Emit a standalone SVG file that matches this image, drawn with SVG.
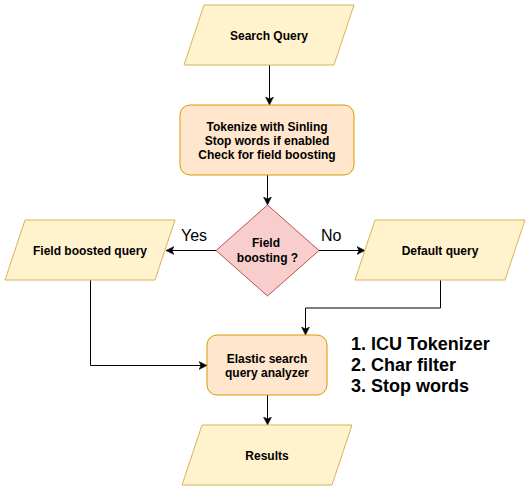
<svg xmlns="http://www.w3.org/2000/svg" width="531" height="491" viewBox="0 0 531 491">
<style>
.io{fill:#fff2cc;stroke:#d6b656;stroke-width:1}
.proc{fill:#ffe6cc;stroke:#d79b00;stroke-width:1}
.dec{fill:#f8cecc;stroke:#b85450;stroke-width:1}
.t{font-family:"Liberation Sans",Arial,sans-serif;font-size:12px;font-weight:bold;fill:#000;text-anchor:middle}
.lbl{font-family:"Liberation Sans",Arial,sans-serif;font-size:16px;fill:#000}
.list{font-family:"Liberation Sans",Arial,sans-serif;font-size:18px;font-weight:bold;fill:#000}
.e{fill:none;stroke:#000;stroke-width:1}
</style>
<defs>
<marker id="arr" markerWidth="9" markerHeight="9" refX="8" refY="4.5" orient="auto" markerUnits="userSpaceOnUse">
<path d="M0,0.5 L8,4.5 L0,8.5 L2,4.5 Z" fill="#000" stroke="#000" stroke-width="0.5"/>
</marker>
</defs>
<rect width="531" height="491" fill="#fff"/>
<g id="connectors">
<path class="e" d="M269.5,65 L269.5,105" marker-end="url(#arr)"/>
<path class="e" d="M267.5,175 L267.5,205" marker-end="url(#arr)"/>
<path class="e" d="M216,250.5 L166,250.5" marker-end="url(#arr)"/>
<path class="e" d="M319,250.5 L365,250.5" marker-end="url(#arr)"/>
<path class="e" d="M90.5,280 L90.5,365.5 L207,365.5" marker-end="url(#arr)"/>
<path class="e" d="M440.5,280 L440.5,308 L305.5,308 L305.5,335" marker-end="url(#arr)"/>
<path class="e" d="M267.5,395 L267.5,425" marker-end="url(#arr)"/>
<text class="lbl" x="181" y="241">Yes</text>
<text class="lbl" x="321" y="241">No</text>
</g>
<g id="search-query">
<polygon class="io" points="204,5 354,5 334,65 184,65"/>
<text class="t" x="269" y="40">Search Query</text>
</g>
<g id="tokenize">
<rect class="proc" x="180" y="105" width="174" height="70" rx="10" ry="10"/>
<text class="t" x="267" y="131">Tokenize with Sinling</text>
<text class="t" x="267" y="145">Stop words if enabled</text>
<text class="t" x="267" y="159">Check for field boosting</text>
</g>
<g id="field-boosting">
<polygon class="dec" points="267.5,205 319,250.5 267.5,296 216,250.5"/>
<text class="t" x="266" y="247">Field</text>
<text class="t" x="267.5" y="262">boosting ?</text>
</g>
<g id="field-boosted-query">
<polygon class="io" points="25,220 175,220 155,280 5,280"/>
<text class="t" x="90" y="255">Field boosted query</text>
</g>
<g id="default-query">
<polygon class="io" points="375,220 525,220 505,280 355,280"/>
<text class="t" x="440" y="255">Default query</text>
</g>
<g id="elastic-analyzer">
<rect class="proc" x="207" y="335" width="120" height="60" rx="10" ry="10"/>
<text class="t" x="267" y="363">Elastic search</text>
<text class="t" x="267" y="377">query analyzer</text>
</g>
<g id="results">
<polygon class="io" points="202,425 352,425 332,485 182,485"/>
<text class="t" x="267" y="460">Results</text>
</g>
<g id="analyzer-steps">
<text class="list" x="351" y="350">1. ICU Tokenizer</text>
<text class="list" x="351" y="371">2. Char filter</text>
<text class="list" x="351" y="392">3. Stop words</text>
</g>
</svg>
